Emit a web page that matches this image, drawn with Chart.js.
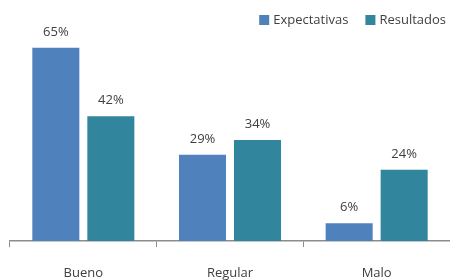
<!DOCTYPE html>
<html>
<head>
<meta charset="utf-8">
<script src="https://cdn.jsdelivr.net/npm/chart.js@4"></script>
<style>
html,body{margin:0;padding:0;background:#fff;}
#wrap{width:450px;height:280px;}
</style>
</head>
<body>
<div id="wrap"><canvas id="c" width="450" height="280"></canvas></div>
<script>
const categories = ["Bueno", "Regular", "Malo"];
const expectativas = [65, 29, 6];
const resultados = [42, 34, 24];
const seriesNames = ["Expectativas", "Resultados"];

const FONT = "'Open Sans', sans-serif";
const TEXT = "#404040";

const barLabels = {
  id: 'barLabels',
  afterDatasetsDraw(chart) {
    const ctx = chart.ctx;
    ctx.save();
    ctx.font = "13px " + FONT;
    ctx.fillStyle = TEXT;
    ctx.textAlign = 'center';
    ctx.textBaseline = 'alphabetic';
    chart.data.datasets.forEach((ds, i) => {
      const meta = chart.getDatasetMeta(i);
      meta.data.forEach((el, j) => {
        ctx.fillText(ds.data[j] + '%', el.x, el.y - 12);
      });
    });
    ctx.restore();
  }
};

// Legend drawn at the top right, right-aligned
const topLegend = {
  id: 'topLegend',
  afterDraw(chart) {
    const ctx = chart.ctx;
    ctx.save();
    ctx.font = "13px " + FONT;
    ctx.textBaseline = 'middle';
    ctx.textAlign = 'left';
    const box = 10, gapBoxText = 4, gapItems = 17, cy = 20;
    const items = chart.data.datasets.map(ds => ({ text: ds.label, color: ds.backgroundColor, w: ctx.measureText(ds.label).width }));
    let x = chart.width - 4;
    for (let i = items.length - 1; i >= 0; i--) {
      const it = items[i];
      const tx = x - it.w;
      ctx.fillStyle = TEXT;
      ctx.fillText(it.text, tx, cy);
      ctx.fillStyle = it.color;
      ctx.fillRect(tx - gapBoxText - box, cy - box / 2, box, box);
      x = tx - gapBoxText - box - gapItems;
    }
    ctx.restore();
  }
};

new Chart(document.getElementById('c'), {
  type: 'bar',
  data: {
    labels: categories,
    datasets: [
      { label: seriesNames[0], data: expectativas, backgroundColor: '#4F81BD' },
      { label: seriesNames[1], data: resultados, backgroundColor: '#31859C' }
    ]
  },
  options: {
    responsive: false,
    animation: false,
    devicePixelRatio: 1,
    layout: { padding: { left: 10, right: 0, top: 30, bottom: 0 } },
    datasets: { bar: { categoryPercentage: 0.75, barPercentage: 0.855 } },
    plugins: {
      legend: { display: false },
      tooltip: { enabled: false }
    },
    scales: {
      y: { display: false, min: 0, max: 71 },
      x: {
        afterFit: (s) => { s.height = 39; },
        border: { display: true, color: '#8c8c8c', width: 1.5 },
        grid: { display: true, drawOnChartArea: false, drawTicks: true, tickLength: 6, color: '#8c8c8c', offset: true },
        ticks: { color: TEXT, font: { family: FONT, size: 13 }, padding: 18 }
      }
    }
  },
  plugins: [barLabels, topLegend]
});
</script>
</body>
</html>
